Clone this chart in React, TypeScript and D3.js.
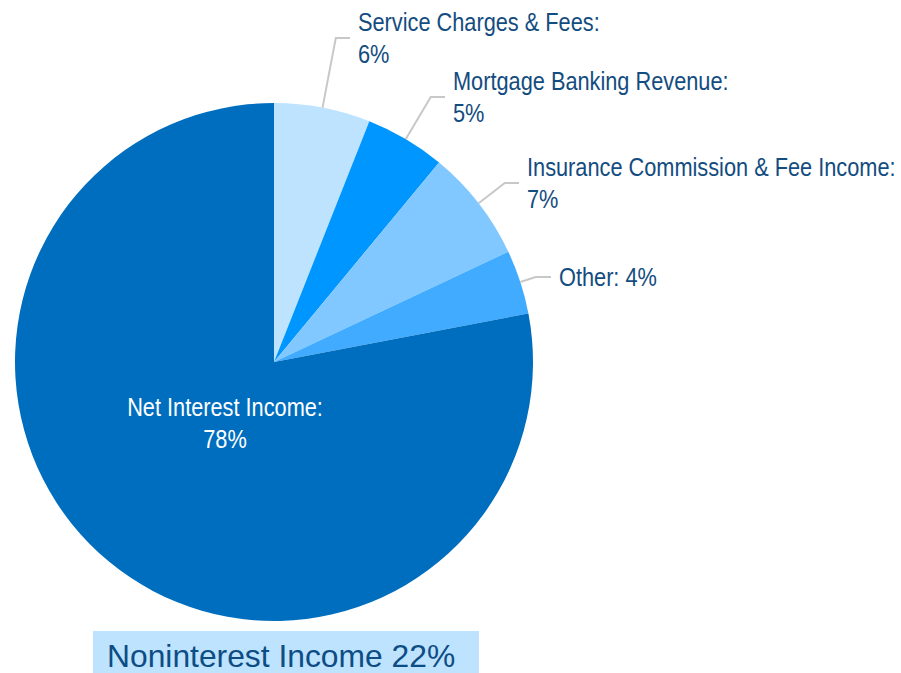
import React from "react";
import * as d3 from "d3";

const categories = [
  "Service Charges & Fees",
  "Mortgage Banking Revenue",
  "Insurance Commission & Fee Income",
  "Other",
  "Net Interest Income",
];
const values = [6, 5, 7, 4, 78];
const colors = ["#BDE3FF", "#0096FF", "#80C8FF", "#40ABFF", "#006EBE"];
const labelLines = [
  ["Service Charges & Fees:", "6%"],
  ["Mortgage Banking Revenue:", "5%"],
  ["Insurance Commission & Fee Income:", "7%"],
  ["Other: 4%"],
  ["Net Interest Income:", "78%"],
];
// label layout: text x and vertical center of the text block (outside labels)
const labelX = [358, 453, 527, 559];
const labelCY = [38, 97, 183, 277];
const footerText = "Noninterest Income 22%";

const W = 901;
const H = 673;
const CX = 274;
const CY = 362;
const R = 259;
const LINE_H = 31.6;
const FS = 25;
const SX = 0.87;
const FONT = "'Liberation Sans', Arial, sans-serif";

function Label({ x, y, lines, fill, anchor }: { x: number; y: number; lines: string[]; fill: string; anchor?: string }) {
  return (
    <text
      transform={`translate(${x},${y}) scale(${SX},1)`}
      fontFamily={FONT}
      fontSize={FS}
      fill={fill}
      textAnchor={anchor || "start"}
    >
      {lines.map((t, k) => (
        <tspan key={k} x={0} dy={k === 0 ? 0 : LINE_H}>
          {t}
        </tspan>
      ))}
    </text>
  );
}

export default function App() {
  const pie = d3.pie<number>().sort(null).value((d) => d)(values);
  const arc = d3.arc<d3.PieArcDatum<number>>().innerRadius(0).outerRadius(R);

  return (
    <svg width={W} height={H} style={{ position: "absolute", left: 0, top: 0 }}>
      <rect width={W} height={H} fill="#fff" />
      <g transform={`translate(${CX},${CY})`}>
        {pie.map((p, i) => (
          <path key={categories[i]} d={arc(p) || ""} fill={colors[i]} />
        ))}
      </g>
      {pie.slice(0, 4).map((p, i) => {
        const a = (p.startAngle + p.endAngle) / 2;
        const sx = CX + R * Math.sin(a);
        const sy = CY - R * Math.cos(a);
        const ey = labelCY[i];
        const ex = CX + (CY - ey) * Math.tan(a);
        const hx = labelX[i] - 8;
        const lines = labelLines[i];
        const n = lines.length;
        const firstBaseline = ey - ((n - 1) * LINE_H) / 2 + 9;
        return (
          <g key={"lab" + i}>
            <polyline
              points={`${sx},${sy} ${ex},${ey} ${hx},${ey}`}
              fill="none"
              stroke="#C8C8C8"
              strokeWidth={2}
            />
            <Label x={labelX[i]} y={firstBaseline} lines={lines} fill="#134C80" />
          </g>
        );
      })}
      <Label x={225} y={416} lines={labelLines[4]} fill="#fff" anchor="middle" />
      <rect x={93} y={631} width={386} height={42} fill="#BDE3FF" />
      <text x={107} y={667} fontFamily={FONT} fontSize={31.8} fill="#0E4D84">
        {footerText}
      </text>
    </svg>
  );
}
